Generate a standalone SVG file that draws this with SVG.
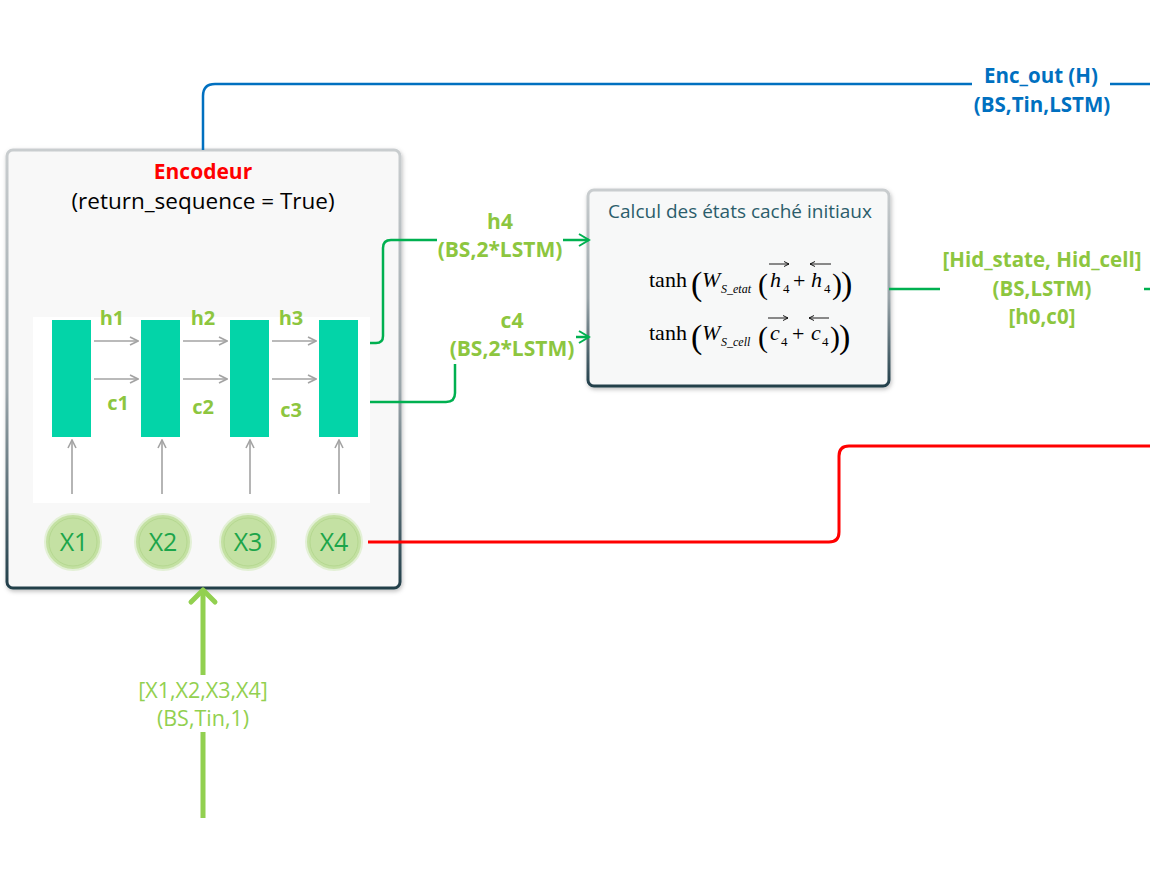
<svg xmlns="http://www.w3.org/2000/svg" width="1150" height="877" viewBox="0 0 1150 877">
<defs>
<linearGradient id="bord" x1="0" y1="0" x2="0" y2="1">
<stop offset="0" stop-color="#c9cdcf"/>
<stop offset="0.55" stop-color="#9aa5aa"/>
<stop offset="1" stop-color="#223f4a"/>
</linearGradient>
<filter id="sh" x="-5%" y="-5%" width="110%" height="110%">
<feDropShadow dx="1" dy="2" stdDeviation="2" flood-color="#000" flood-opacity="0.25"/>
</filter>
<marker id="ag" viewBox="0 0 10 10" refX="9" refY="5" markerWidth="10" markerHeight="10" markerUnits="userSpaceOnUse" orient="auto">
<path d="M1,1 L9,5 L1,9" fill="none" stroke="#a3a3a3" stroke-width="1.6"/>
</marker>
<marker id="agr" viewBox="0 0 14 14" refX="12" refY="7" markerWidth="14" markerHeight="14" markerUnits="userSpaceOnUse" orient="auto">
<path d="M2,1 L12,7 L2,13" fill="none" stroke="#00b050" stroke-width="2"/>
</marker>
<marker id="vec" viewBox="0 0 6 6" refX="5.5" refY="3" markerWidth="6" markerHeight="6" markerUnits="userSpaceOnUse" orient="auto-start-reverse">
<path d="M0.5,0.5 L5.5,3 L0.5,5.5" fill="none" stroke="#000" stroke-width="0.9"/>
</marker>
</defs>
<style>
.lbl{font-family:"Open Sans","Noto Sans",sans-serif;font-weight:bold;fill:#8dc63f;text-anchor:middle}
.blue{font-family:"Open Sans","Noto Sans",sans-serif;font-weight:bold;fill:#0070c0;text-anchor:middle;font-size:20.5px}
.cell{fill:#03d4a8}
.harr{stroke:#a3a3a3;stroke-width:1.6;fill:none;marker-end:url(#ag)}
.xc{font-family:"Open Sans","Noto Sans",sans-serif;font-size:25px;fill:#1ca54a;text-anchor:middle}
.mth{font-family:"Liberation Serif","Times New Roman",serif;fill:#000}
.it{font-style:italic}
.vl{stroke:#000;stroke-width:0.9;fill:none}
</style>
<rect width="1150" height="877" fill="#ffffff"/>

<g id="encoder">
<rect x="7" y="150" width="393" height="438" rx="6" fill="#f8f8f8" stroke="url(#bord)" stroke-width="3" filter="url(#sh)"/>
<text x="203" y="179" font-family="'Open Sans','Noto Sans',sans-serif" font-size="21" font-weight="bold" fill="#ff0000" text-anchor="middle">Encodeur</text>
<text x="203" y="209" font-family="'Open Sans','Noto Sans',sans-serif" font-size="22.5" fill="#000" text-anchor="middle">(return_sequence = True)</text>
<rect x="33" y="317" width="337" height="186" fill="#ffffff"/>
<rect class="cell" x="52" y="320" width="39" height="117"/>
<rect class="cell" x="141" y="320" width="39" height="117"/>
<rect class="cell" x="230" y="320" width="39" height="117"/>
<rect class="cell" x="319" y="320" width="39" height="117"/>
<path class="harr" d="M94,341 H138"/>
<path class="harr" d="M183,341 H227"/>
<path class="harr" d="M272,341 H316"/>
<path class="harr" d="M94,379 H138"/>
<path class="harr" d="M183,379 H227"/>
<path class="harr" d="M272,379 H316"/>
<path class="harr" d="M72,494 V440"/>
<path class="harr" d="M162,494 V440"/>
<path class="harr" d="M250,494 V440"/>
<path class="harr" d="M339,494 V440"/>
<text class="lbl" x="112" y="325" font-size="20">h1</text>
<text class="lbl" x="203" y="325" font-size="20">h2</text>
<text class="lbl" x="291" y="325" font-size="20">h3</text>
<text class="lbl" x="118" y="410" font-size="20">c1</text>
<text class="lbl" x="203" y="414" font-size="20">c2</text>
<text class="lbl" x="291" y="417" font-size="20">c3</text>
<g id="x1"><circle cx="73" cy="542" r="28" fill="#c4e1a3" stroke="#e3f0d6" stroke-width="2"/><circle cx="73" cy="542" r="24" fill="none" stroke="#b5d890" stroke-width="1"/><text class="xc" x="74" y="551">X1</text></g>
<g id="x2"><circle cx="163" cy="542" r="28" fill="#c4e1a3" stroke="#e3f0d6" stroke-width="2"/><circle cx="163" cy="542" r="24" fill="none" stroke="#b5d890" stroke-width="1"/><text class="xc" x="163" y="551">X2</text></g>
<g id="x3"><circle cx="248" cy="542" r="28" fill="#c4e1a3" stroke="#e3f0d6" stroke-width="2"/><circle cx="248" cy="542" r="24" fill="none" stroke="#b5d890" stroke-width="1"/><text class="xc" x="248" y="551">X3</text></g>
<g id="x4"><circle cx="334" cy="542" r="28" fill="#c4e1a3" stroke="#e3f0d6" stroke-width="2"/><circle cx="334" cy="542" r="24" fill="none" stroke="#b5d890" stroke-width="1"/><text class="xc" x="334" y="551">X4</text></g>
</g>

<g id="calcul">
<rect x="588" y="190" width="301" height="196" rx="6" fill="#f7f8f8" stroke="url(#bord)" stroke-width="3" filter="url(#sh)"/>
<text x="740" y="218" font-family="'Open Sans','Noto Sans',sans-serif" font-size="19" fill="#2b5d6b" text-anchor="middle">Calcul des états caché initiaux</text>
<g class="mth">
<text x="649" y="287" font-size="22">tanh</text>
<text x="691" y="295" font-size="34">(</text>
<text class="it" x="702" y="287" font-size="22">W</text>
<text class="it" x="721" y="293" font-size="12">S_etat</text>
<text x="758" y="294" font-size="30">(</text>
<text class="it" x="770" y="287" font-size="22">h</text>
<text x="783" y="293" font-size="13">4</text>
<text x="793" y="288" font-size="22">+</text>
<text class="it" x="811" y="287" font-size="22">h</text>
<text x="824" y="293" font-size="13">4</text>
<text x="832" y="294" font-size="30">)</text>
<text x="841" y="295" font-size="34">)</text>
<path class="vl" d="M769,264 H789" marker-end="url(#vec)"/>
<path class="vl" d="M831,264 H810" marker-end="url(#vec)"/>

<text x="649" y="340" font-size="22">tanh</text>
<text x="691" y="348" font-size="34">(</text>
<text class="it" x="702" y="340" font-size="22">W</text>
<text class="it" x="721" y="346" font-size="12">S_cell</text>
<text x="758" y="347" font-size="30">(</text>
<text class="it" x="770" y="340" font-size="22">c</text>
<text x="781" y="346" font-size="13">4</text>
<text x="792" y="341" font-size="22">+</text>
<text class="it" x="811" y="340" font-size="22">c</text>
<text x="822" y="346" font-size="13">4</text>
<text x="830" y="347" font-size="30">)</text>
<text x="839" y="348" font-size="34">)</text>
<path class="vl" d="M768,318 H788" marker-end="url(#vec)"/>
<path class="vl" d="M829,318 H809" marker-end="url(#vec)"/>
</g>
</g>

<g id="connectors">
<path d="M203,150 V96 Q203,84 215,84 H972" fill="none" stroke="#0070c0" stroke-width="2.5"/>
<path d="M1110,84 H1150" fill="none" stroke="#0070c0" stroke-width="2.5"/>
<path d="M370,343 H376 Q383,343 383,336 V248 Q383,240 391,240 H437" fill="none" stroke="#00b050" stroke-width="2.5"/>
<path d="M563,240 H589" fill="none" stroke="#00b050" stroke-width="2.5" marker-end="url(#agr)"/>
<path d="M370,402 H446 Q455,402 455,393 V364" fill="none" stroke="#00b050" stroke-width="2.5"/>
<path d="M576,337 H589" fill="none" stroke="#00b050" stroke-width="2.5" marker-end="url(#agr)"/>
<path d="M889,289 H940" fill="none" stroke="#00b050" stroke-width="2.5"/>
<path d="M1144,289 H1150" fill="none" stroke="#00b050" stroke-width="2.5"/>
<path d="M368,542 H829 Q839,542 839,532 V456 Q839,446 849,446 H1150" fill="none" stroke="#ff0000" stroke-width="3"/>
<path d="M203,818 V732 M203,675 V591" fill="none" stroke="#92d050" stroke-width="5"/>
<path d="M191,602 L203,590 L215,602" fill="none" stroke="#92d050" stroke-width="5" stroke-linecap="round" stroke-linejoin="round"/>
</g>

<g id="labels">
<text class="blue" x="1041" y="83">Enc_out (H)</text>
<text class="blue" x="1042" y="112">(BS,Tin,LSTM)</text>
<text class="lbl" x="500" y="229" font-size="21">h4</text>
<text class="lbl" x="500" y="257" font-size="21">(BS,2*LSTM)</text>
<text class="lbl" x="512" y="328" font-size="21">c4</text>
<text class="lbl" x="512" y="356" font-size="21">(BS,2*LSTM)</text>
<text class="lbl" x="1042" y="267" font-size="20.5">[Hid_state, Hid_cell]</text>
<text class="lbl" x="1042" y="296" font-size="20.5">(BS,LSTM)</text>
<text class="lbl" x="1042" y="324" font-size="20.5">[h0,c0]</text>
<text x="203" y="698" font-family="'Open Sans','Noto Sans',sans-serif" font-size="21.5" fill="#92d050" text-anchor="middle">[X1,X2,X3,X4]</text>
<text x="203" y="726" font-family="'Open Sans','Noto Sans',sans-serif" font-size="21.5" fill="#92d050" text-anchor="middle">(BS,Tin,1)</text>
</g>
</svg>
